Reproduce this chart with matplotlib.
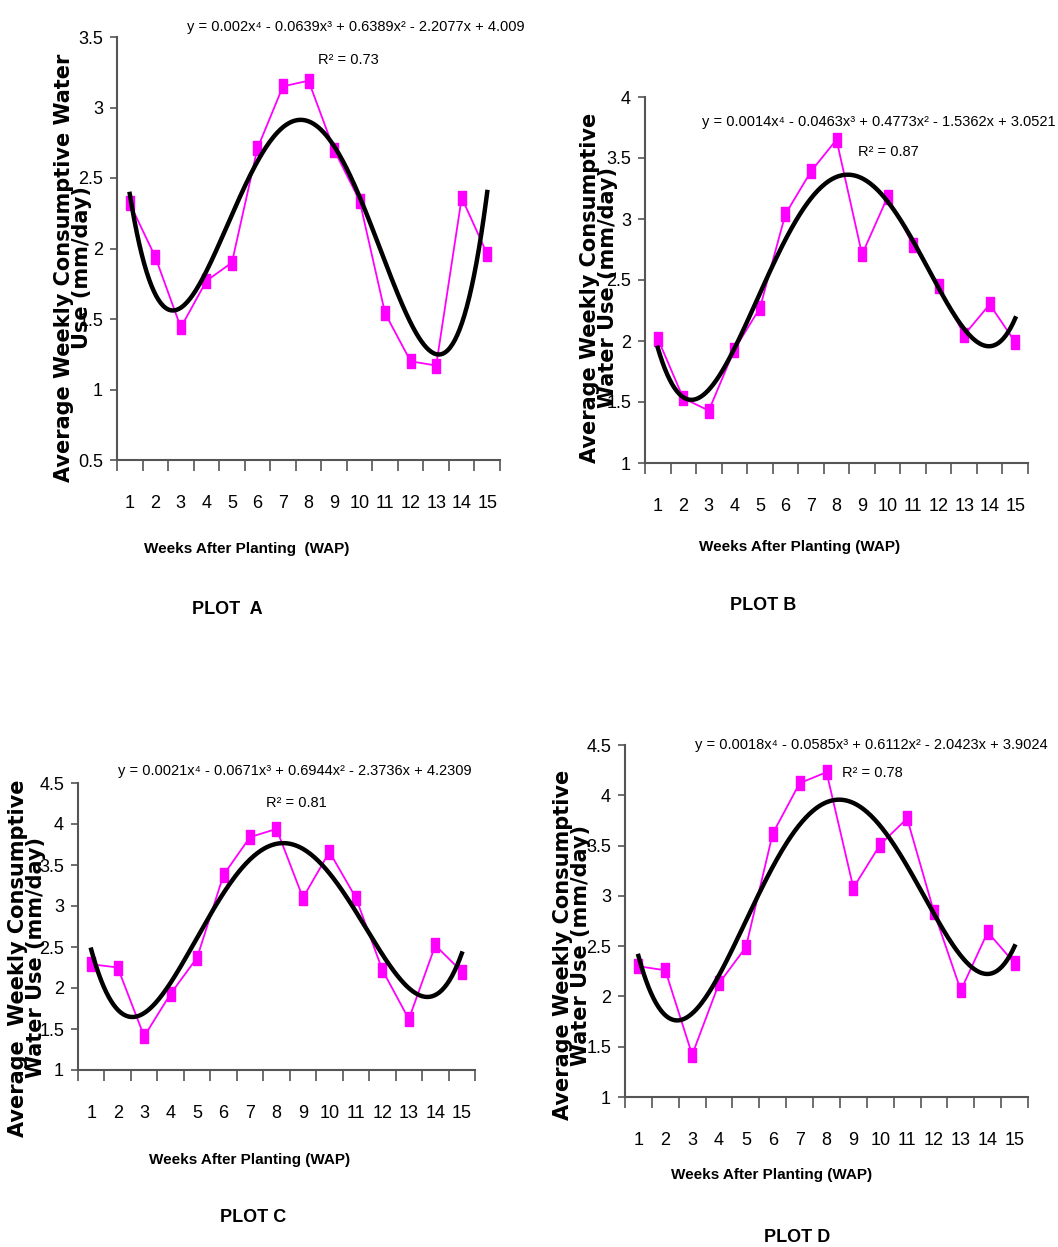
import numpy as np
import matplotlib
matplotlib.use('Agg')
from matplotlib import pyplot as plt
from matplotlib.ticker import FixedLocator, MultipleLocator, FuncFormatter

W, H = 1058, 1247

weeks = list(range(1, 16))

plot_a = [2.32, 1.94, 1.44, 1.77, 1.90, 2.71, 3.15, 3.19, 2.70, 2.34, 1.54, 1.20, 1.17, 2.36, 1.96]
plot_b = [2.02, 1.53, 1.43, 1.93, 2.27, 3.04, 3.39, 3.65, 2.71, 3.18, 2.79, 2.45, 2.05, 2.30, 1.99]
plot_c = [2.29, 2.25, 1.41, 1.93, 2.37, 3.38, 3.84, 3.94, 3.10, 3.66, 3.10, 2.22, 1.62, 2.52, 2.20]
plot_d = [2.30, 2.26, 1.42, 2.13, 2.49, 3.62, 4.12, 4.23, 3.08, 3.51, 3.77, 2.84, 2.06, 2.64, 2.33]

equations = [
    'y = 0.002x⁴ - 0.0639x³ + 0.6389x² - 2.2077x + 4.009',
    'y = 0.0014x⁴ - 0.0463x³ + 0.4773x² - 1.5362x + 3.0521',
    'y = 0.0021x⁴ - 0.0671x³ + 0.6944x² - 2.3736x + 4.2309',
    'y = 0.0018x⁴ - 0.0585x³ + 0.6112x² - 2.0423x + 3.9024',
]
r_squared = ['R² = 0.73', 'R² = 0.87', 'R² = 0.81', 'R² = 0.78']
ylabels = [
    'Average Weekly Consumptive Water\nUse (mm/day)',
    'Average Weekly Consumptive\nWater Use (mm/day)',
    'Average  Weekly Consumptive\nWater Use (mm/day)',
    'Average Weekly Consumptive\nWater Use (mm/day)',
]
xlabels = ['Weeks After Planting  (WAP)', 'Weeks After Planting (WAP)',
           'Weeks After Planting (WAP)', 'Weeks After Planting (WAP)']
titles = ['PLOT  A', 'PLOT B', 'PLOT C', 'PLOT D']
ylims = [(0.5, 3.5), (1, 4), (1, 4.5), (1, 4.5)]

# layout in pixels: (left, right, top, bottom) of each axes box
boxes = [(117, 500, 37, 460), (645, 1028, 97, 463),
         (78, 475, 783, 1070), (625, 1028, 745, 1097)]
# equation (x, y, align), R2 (x, y)
eq_pos = [(187, 27, 'left'), (1056, 122, 'right'),
          (118, 771, 'left'), (695, 745, 'left')]
r2_pos = [(348, 60), (888, 152), (296, 803), (872, 773)]
xlab_pos = [(247, 549), (800, 547), (250, 1160), (772, 1175)]
title_pos = [(227, 610), (763, 605), (253, 1217), (797, 1237)]
ylab_pos = [(73, 268), (599, 288), (27, 958), (572, 945)]

sans = ['Liberation Sans', 'DejaVu Sans']
matplotlib.rc('font', family=sans)

fig = plt.figure(figsize=(W / 100, H / 100), dpi=100)

marker_box = [(-1, -1.75), (1, -1.75), (1, 1.75), (-1, 1.75), (-1, -1.75)]


def fx(px):
    return px / W


def fy(py):
    return 1 - py / H


series = [plot_a, plot_b, plot_c, plot_d]
for i, data in enumerate(series):
    l, r, t, b = boxes[i]
    ax = fig.add_axes([fx(l), fy(b), (r - l) / W, (b - t) / H])
    x = np.array(weeks)
    y = np.array(data)
    ax.plot(x, y, color='#FF00FF', lw=1.3, marker=marker_box, ms=10,
            mec='#FF00FF', mfc='#FF00FF', zorder=2, clip_on=False)
    # 4th order polynomial trendline fitted to the data
    coef = np.polyfit(x, y, 4)
    xs = np.linspace(1, 15, 300)
    ax.plot(xs, np.polyval(coef, xs), color='black', lw=3.2, zorder=3,
            clip_on=False)

    ax.set_xlim(0.5, 15.5)
    ax.set_ylim(*ylims[i])
    ax.yaxis.set_major_locator(MultipleLocator(0.5))
    ax.yaxis.set_major_formatter(FuncFormatter(lambda v, p: f'{v:g}'))
    ax.xaxis.set_major_locator(FixedLocator(np.arange(0.5, 16, 1)))
    ax.xaxis.set_major_formatter(FuncFormatter(lambda v, p: ''))
    ax.xaxis.set_minor_locator(FixedLocator(weeks))
    ax.xaxis.set_minor_formatter(FuncFormatter(lambda v, p: f'{v:g}'))
    ax.tick_params(axis='x', which='major', direction='out', length=8,
                   width=1.2, color='#555555')
    ax.tick_params(axis='x', which='minor', length=0, pad=25, labelsize=13)
    ax.tick_params(axis='y', direction='out', length=5, width=1.2,
                   color='#555555', labelsize=13, pad=5)
    for s in ['top', 'right']:
        ax.spines[s].set_visible(False)
    for s in ['left', 'bottom']:
        ax.spines[s].set_color('#555555')
        ax.spines[s].set_linewidth(1.5)

    # rotated y label, two centred lines
    yx, yy = ylab_pos[i]
    fig.text(fx(yx), fy(yy), ylabels[i], rotation=90,
             ha='center', va='center', multialignment='center',
             family='DejaVu Sans', fontweight='bold',
             fontsize=15, linespacing=0.92)

    ex, ey, ea = eq_pos[i]
    fig.text(fx(ex), fy(ey), equations[i], ha=ea, va='center',
             fontsize=10.5)
    rx, ry = r2_pos[i]
    fig.text(fx(rx), fy(ry), r_squared[i], ha='center', va='center',
             fontsize=10.5)

    lx, ly = xlab_pos[i]
    fig.text(fx(lx), fy(ly), xlabels[i], ha='center', va='center',
             fontsize=11, fontweight='bold')
    tx, ty = title_pos[i]
    fig.text(fx(tx), fy(ty), titles[i], ha='center', va='center',
             fontsize=13, fontweight='bold')

plt.savefig('out.png', dpi=100)
